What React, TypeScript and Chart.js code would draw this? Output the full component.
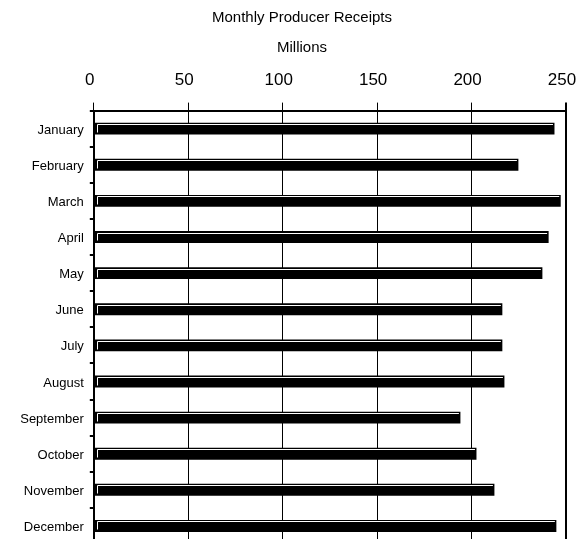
import React, { useEffect, useRef } from "react";
import { Chart, registerables } from "chart.js";

Chart.register(...registerables);

const months = [
  "January",
  "February",
  "March",
  "April",
  "May",
  "June",
  "July",
  "August",
  "September",
  "October",
  "November",
  "December",
];
const receipts = [243.9, 224.8, 247.2, 240.8, 237.5, 216.3, 216.3, 217.4, 194.1, 202.6, 212.1, 244.9];
const xTickMin = 0;
const xTickMax = 250;
const xTickStep = 50;
const chartTitle = "Monthly Producer Receipts";
const unitLabel = "Millions";

const FONT = "'Liberation Sans', Arial, Helvetica, sans-serif";

const bevelPlugin = {
  id: "bevel",
  afterDatasetsDraw(chart: any) {
    const ctx = chart.ctx;
    const meta = chart.getDatasetMeta(0);
    ctx.save();
    ctx.strokeStyle = "#ffffff";
    ctx.lineWidth = 1;
    meta.data.forEach((bar: any) => {
      const p = bar.getProps(["x", "y", "base", "height"], true);
      const top = p.y - p.height / 2;
      const bottom = p.y + p.height / 2;
      const left = Math.min(p.base, p.x);
      const right = Math.max(p.base, p.x);
      const ty = Math.floor(top) + 2.5;
      const lx = Math.floor(left) + 3.5;
      ctx.beginPath();
      ctx.moveTo(lx, Math.floor(bottom) - 1.5);
      ctx.lineTo(lx, ty);
      ctx.lineTo(right - 1.5, ty);
      ctx.stroke();
    });
    ctx.restore();
  },
};

export default function App() {
  const ref = useRef<HTMLCanvasElement | null>(null);

  useEffect(() => {
    if (!ref.current) return;
    const chart = new Chart(ref.current, {
      type: "bar",
      data: {
        labels: months,
        datasets: [
          {
            data: receipts,
            backgroundColor: "#000000",
            borderWidth: 0,
            barPercentage: 0.33,
            categoryPercentage: 1,
          },
        ],
      },
      options: {
        indexAxis: "y",
        animation: false,
        responsive: false,
        devicePixelRatio: 1,
        layout: { padding: 0 },
        plugins: {
          legend: { display: false },
          tooltip: { enabled: false },
          title: {
            display: true,
            text: chartTitle,
            color: "#000",
            font: { family: FONT, size: 15, weight: "normal", lineHeight: 1.2 },
            padding: { top: 9, bottom: 5.6 },
          },
          subtitle: {
            display: true,
            text: unitLabel,
            color: "#000",
            font: { family: FONT, size: 15, weight: "normal", lineHeight: 1.2 },
            padding: { top: 5.8, bottom: 0 },
          },
        },
        scales: {
          x: {
            type: "linear",
            position: "top",
            min: xTickMin,
            max: xTickMax,
            ticks: {
              stepSize: xTickStep,
              color: "#000",
              font: { family: FONT, size: 17, lineHeight: 1.2 },
              padding: 12,
              maxRotation: 0,
              labelOffset: -4,
            },
            grid: {
              color: "#000",
              lineWidth: (c: any) => (c.tick && c.tick.value === xTickMax ? 2 : 1),
              tickLength: 8,
              drawTicks: true,
            },
            border: { display: true, color: "#000", width: 2 },
            afterFit: (s: any) => {
              s.height = 54.2;
              s.paddingLeft = 0;
              s.paddingRight = 18;
              s.paddingTop = 0;
              s.paddingBottom = 0;
            },
          },
          y: {
            type: "category",
            ticks: {
              color: "#000",
              font: { family: FONT, size: 13 },
              padding: 6,
              labelOffset: 1.5,
            },
            grid: {
              drawOnChartArea: false,
              drawTicks: true,
              tickLength: 4,
              color: "#000",
              lineWidth: 2,
            },
            border: { display: true, color: "#000", width: 2 },
            afterFit: (s: any) => {
              s.width = 73.8;
              s.paddingLeft = 0;
              s.paddingRight = 0;
              s.paddingTop = 0;
              s.paddingBottom = 0;
            },
          },
        },
      },
      plugins: [bevelPlugin],
    } as any);
    return () => chart.destroy();
  }, []);

  return (
    <div
      style={{
        position: "fixed",
        left: 20,
        top: 0,
        width: 564,
        height: 544,
        background: "#fff",
      }}
    >
      <canvas ref={ref} width={564} height={544} style={{ display: "block" }} />
    </div>
  );
}
